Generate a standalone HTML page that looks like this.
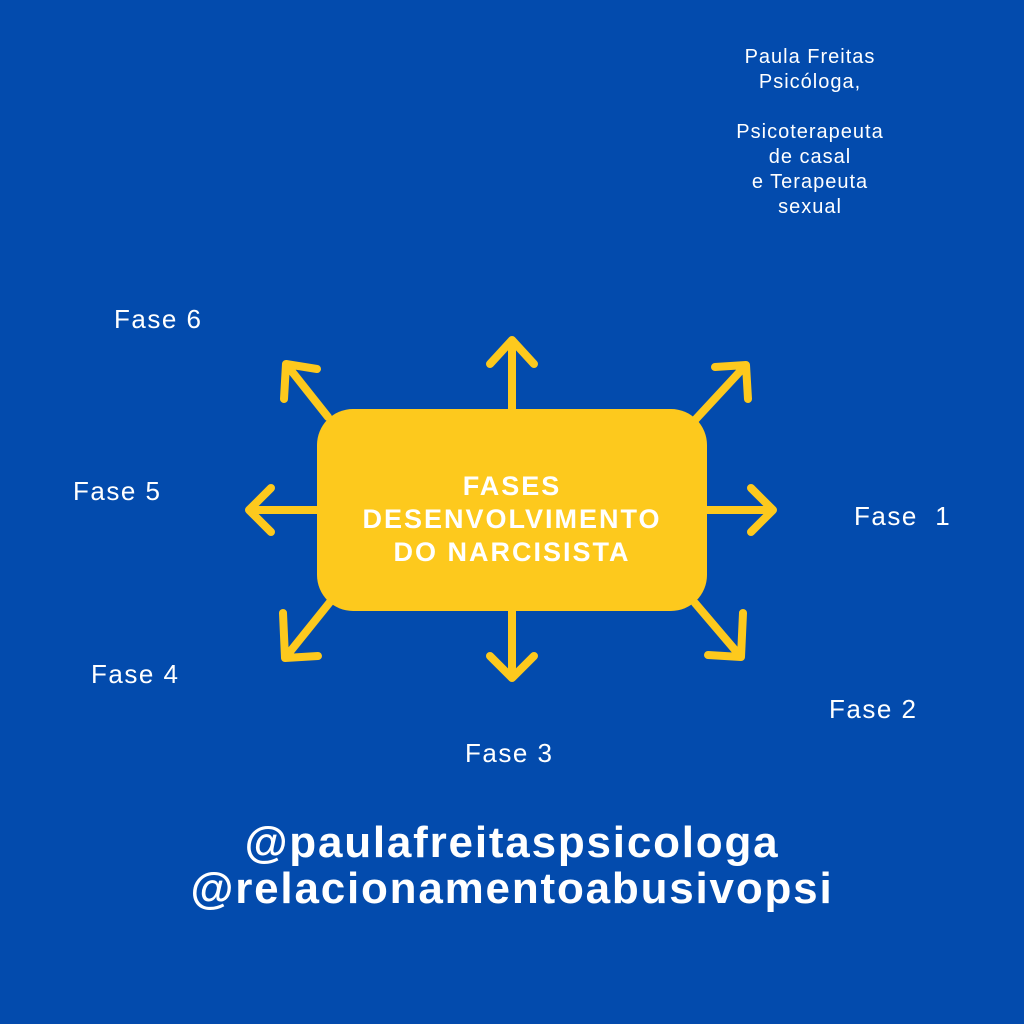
<!DOCTYPE html>
<html><head><meta charset="utf-8"><style>
body{margin:0;width:1024px;height:1024px;background:#034bad;position:relative;overflow:hidden;font-family:"Liberation Sans",sans-serif;color:#fff}
.t{position:absolute;white-space:nowrap}
.f{font-size:26px;letter-spacing:1.5px}
</style></head><body>
<svg width="1024" height="1024" style="position:absolute;left:0;top:0">
<g stroke="#fdc91d" stroke-width="8" stroke-linecap="round" stroke-linejoin="round" fill="none">
<path d="M512 409V340M490 364L512 340L534 364"/>
<path d="M707 510H773M751 488L773 510L751 532"/>
<path d="M317 510H249M271 488L249 510L271 532"/>
<path d="M512 611V678M490 656L512 678L534 656"/>
<path d="M328 417L286 364M317 369L286 364L284 399"/>
<path d="M695 420L746 365M715 367L746 365L748 399"/>
<path d="M330 602L285 658M283 613L285 658L318 656"/>
<path d="M695 603L741 657M743 613L741 657L708 655"/>
</g>
<rect x="317" y="409" width="390" height="202" rx="36" fill="#fdc91d"/>
</svg>
<div class="t" style="left:317px;width:390px;top:470px;text-align:center;font-weight:bold;font-size:27px;line-height:33px;letter-spacing:2px">FASES<br>DESENVOLVIMENTO<br>DO NARCISISTA</div>
<div class="t" style="left:700px;width:220px;top:45px;text-align:center;font-size:20px;line-height:25px;letter-spacing:1px">Paula Freitas<br>Psicóloga,<br><br>Psicoterapeuta<br>de casal<br>e Terapeuta<br>sexual</div>
<div class="t f" style="left:114px;top:304px">Fase 6</div>
<div class="t f" style="left:73px;top:476px">Fase 5</div>
<div class="t f" style="left:854px;top:501px">Fase&nbsp;&nbsp;1</div>
<div class="t f" style="left:91px;top:659px">Fase 4</div>
<div class="t f" style="left:829px;top:694px">Fase 2</div>
<div class="t f" style="left:465px;top:738px">Fase 3</div>
<div class="t" style="left:0;width:1024px;top:820px;text-align:center;font-weight:bold;font-size:44px;line-height:46px;letter-spacing:1.8px">@paulafreitaspsicologa<br>@relacionamentoabusivopsi</div>
</body></html>
